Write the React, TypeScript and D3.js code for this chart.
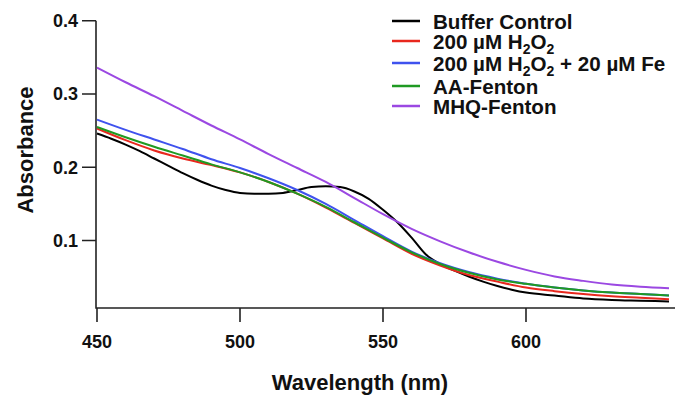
import React from "react";
import * as d3 from "d3";

const wavelengths = [450, 460, 470, 480, 490, 500, 510, 520, 530, 540, 550, 560, 570, 580, 590, 600, 610, 620, 630, 640, 650];
const h2o2 = [0.253, 0.237, 0.223, 0.212, 0.203, 0.193, 0.180, 0.164, 0.145, 0.124, 0.103, 0.082, 0.066, 0.053, 0.044, 0.036, 0.031, 0.027, 0.024, 0.022, 0.020];
const h2o2Fe = [0.265, 0.251, 0.238, 0.225, 0.211, 0.199, 0.185, 0.169, 0.150, 0.128, 0.106, 0.085, 0.069, 0.057, 0.048, 0.041, 0.036, 0.032, 0.029, 0.027, 0.025];
const aaFenton = [0.255, 0.241, 0.228, 0.216, 0.204, 0.193, 0.180, 0.164, 0.146, 0.125, 0.104, 0.084, 0.068, 0.056, 0.047, 0.041, 0.036, 0.032, 0.029, 0.027, 0.025];
const mhqFenton = [0.336, 0.316, 0.297, 0.277, 0.257, 0.238, 0.218, 0.199, 0.180, 0.158, 0.136, 0.116, 0.099, 0.084, 0.071, 0.060, 0.051, 0.045, 0.040, 0.037, 0.035];

const bufferWavelengths = [450, 455, 460, 465, 470, 475, 480, 485, 490, 495, 500, 505, 510, 515, 520, 525, 530, 535, 540, 545, 550, 555, 560, 565, 570, 575, 580, 585, 590, 595, 600, 610, 620, 630, 640, 650];
const bufferControl = [0.246, 0.239, 0.231, 0.222, 0.212, 0.202, 0.192, 0.183, 0.175, 0.169, 0.165, 0.164, 0.164, 0.165, 0.169, 0.173, 0.174, 0.173, 0.167, 0.157, 0.142, 0.125, 0.104, 0.081, 0.068, 0.059, 0.051, 0.044, 0.038, 0.033, 0.029, 0.025, 0.021, 0.019, 0.018, 0.017];

const xTicks = [450, 500, 550, 600];
const yTicks = [0.1, 0.2, 0.3, 0.4];

const FONT = "'Liberation Sans', Arial, Helvetica, sans-serif";

type Series = { name: string; color: string; xs: number[]; ys: number[] };

const series: Series[] = [
  { name: "buffer", color: "#000000", xs: bufferWavelengths, ys: bufferControl },
  { name: "h2o2", color: "#e8281e", xs: wavelengths, ys: h2o2 },
  { name: "h2o2fe", color: "#3f52ee", xs: wavelengths, ys: h2o2Fe },
  { name: "aa", color: "#1f9a22", xs: wavelengths, ys: aaFenton },
  { name: "mhq", color: "#9b48e2", xs: wavelengths, ys: mhqFenton },
];

export default function App() {
  const W = 675, H = 397;
  const x = d3.scaleLinear().domain([450, 650]).range([97, 669]);
  const y = d3.scaleLinear().domain([0.008, 0.4]).range([308, 20.7]);
  const axisLeft = 96;
  const axisBottom = 308;

  const line = d3
    .line<[number, number]>()
    .x((d) => x(d[0]))
    .y((d) => y(d[1]))
    .curve(d3.curveMonotoneX);

  const legendRows = [
    { color: "#000000", y: 21 },
    { color: "#e8281e", y: 41 },
    { color: "#3f52ee", y: 63 },
    { color: "#1f9a22", y: 86 },
    { color: "#9b48e2", y: 106 },
  ];
  const SUB = 14;
  const legendLabels = [
    <>Buffer Control</>,
    <>
      200 µM H<tspan fontSize={SUB} dy={5}>2</tspan>
      <tspan dy={-5}>O</tspan>
      <tspan fontSize={SUB} dy={5}>2</tspan>
    </>,
    <>
      200 µM H<tspan fontSize={SUB} dy={5}>2</tspan>
      <tspan dy={-5}>O</tspan>
      <tspan fontSize={SUB} dy={5}>2</tspan>
      <tspan dy={-5}> + 20 µM Fe</tspan>
    </>,
    <>AA-Fenton</>,
    <>MHQ-Fenton</>,
  ];

  const tickPathY = yTicks.map((t) => `M${axisLeft - 14},${y(t)}H${axisLeft}`).join("");
  const tickPathX = xTicks.map((t) => `M${x(t)},${axisBottom}V${axisBottom + 14}`).join("");

  return (
    <svg
      width={W}
      height={H}
      style={{ position: "absolute", left: 0, top: 0, background: "#fff" }}
      fontFamily={FONT}
      fontWeight="bold"
    >
      <rect width={W} height={H} fill="#fff" />
      {/* axes */}
      <path d={`M${axisLeft},${y(0.4)}V${axisBottom}H${W}`} fill="none" stroke="#222" strokeWidth={1.6} />
      <path d={tickPathY} fill="none" stroke="#222" strokeWidth={1.6} />
      <path d={tickPathX} fill="none" stroke="#222" strokeWidth={1.6} />
      {yTicks.map((t) => (
        <text key={t} x={78} y={y(t)} dy="0.35em" textAnchor="end" fontSize={18} fill="#111">
          {d3.format(".1f")(t)}
        </text>
      ))}
      {xTicks.map((t) => (
        <text key={t} x={x(t)} y={348} textAnchor="middle" fontSize={18} fill="#111">
          {t}
        </text>
      ))}
      <text x={360} y={390} textAnchor="middle" fontSize={22} fill="#111">
        Wavelength (nm)
      </text>
      <text transform="translate(33,150) rotate(-90)" textAnchor="middle" fontSize={22} fill="#111">
        Absorbance
      </text>
      {/* curves */}
      {series.map((s) => (
        <path
          key={s.name}
          d={line(s.xs.map((v, i) => [v, s.ys[i]] as [number, number])) || ""}
          fill="none"
          stroke={s.color}
          strokeWidth={2}
          strokeLinejoin="round"
        />
      ))}
      {/* legend */}
      {legendRows.map((r, i) => (
        <g key={i}>
          <line x1={392} x2={420} y1={r.y} y2={r.y} stroke={r.color} strokeWidth={2.5} />
          <text x={433} y={r.y + 7.5} fontSize={20.6} fill="#111">
            {legendLabels[i]}
          </text>
        </g>
      ))}
    </svg>
  );
}
